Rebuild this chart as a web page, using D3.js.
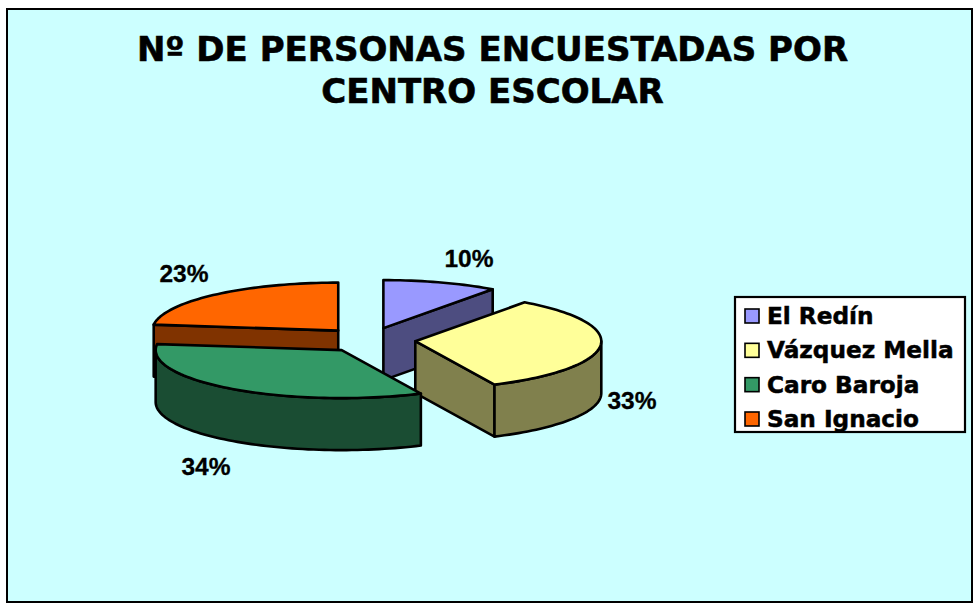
<!DOCTYPE html>
<html><head><meta charset="utf-8">
<script src="https://cdn.jsdelivr.net/npm/d3@7"></script>
<style>html,body{margin:0;padding:0;background:#fff}svg{display:block}</style>
</head><body><svg id="c" width="973" height="603"></svg>
<script>
const titleLines = ["Nº DE PERSONAS ENCUESTADAS POR", "CENTRO ESCOLAR"];
const categories = ["El Redín", "Vázquez Mella", "Caro Baroja", "San Ignacio"];
const values = [10, 33, 34, 23];
const topColors = ["#9999FF", "#FFFF99", "#339966", "#FF6600"];
const sideColors = ["#4D4D80", "#80804D", "#1A4D33", "#803300"];
const drawOrder = [0, 3, 1, 2];
const labelAnchors = [[469, 267], [632, 409], [206, 475], [184, 282]];

const svg = d3.select("#c");
const cx = 369, cy = 340, rx = 186, ry = 48, depth = 52, ex = 46.5, ey = 12.5;
const F = "'Liberation Sans',Arial,sans-serif", V = "'DejaVu Sans',Verdana,sans-serif";

svg.append("rect").attr("x", 7).attr("y", 9).attr("width", 965).attr("height", 593)
  .attr("fill", "#CCFFFF").attr("stroke", "#000").attr("stroke-width", 2);

svg.selectAll("text.title").data(titleLines).join("text").attr("class", "title")
  .attr("x", 492.5).attr("y", (d, i) => 61 + i * 42)
  .attr("text-anchor", "middle").attr("font-family", V).attr("font-weight", "bold")
  .attr("font-size", 34).attr("fill", "#000")
  .attr("stroke", "#000").attr("stroke-width", 0.6).text(d => d);

const arcs = d3.pie().sort(null).value(d => d)(values);
const line = d3.line().curve(d3.curveLinear);
const stroke = g => g.attr("stroke", "#000").attr("stroke-width", 2.6).attr("stroke-linejoin", "round");

drawOrder.forEach(i => {
  const a = arcs[i], a0 = a.startAngle, a1 = a.endAngle, mid = (a0 + a1) / 2;
  const ax = cx + ex * Math.sin(mid), ay = cy - ey * Math.cos(mid);
  const pt = t => [ax + rx * Math.sin(t), ay - ry * Math.cos(t)];
  const down = p => [p[0], p[1] + depth];
  const sweep = (s, e) => {
    const n = Math.max(2, Math.ceil((e - s) / 0.03));
    return d3.range(n + 1).map(k => pt(s + (e - s) * k / n));
  };
  const g = svg.append("g");
  const apex = [ax, ay];
  if (a0 > Math.PI && a0 < 2 * Math.PI - 1e-6) {
    const p = pt(a0);
    g.append("path").attr("d", line([apex, p, down(p), down(apex)]) + "Z").attr("fill", sideColors[i]).call(stroke);
  }
  if (a1 > 1e-6 && a1 < Math.PI) {
    const p = pt(a1);
    g.append("path").attr("d", line([apex, p, down(p), down(apex)]) + "Z").attr("fill", sideColors[i]).call(stroke);
  }
  const s = Math.max(a0, Math.PI / 2), e = Math.min(a1, 3 * Math.PI / 2);
  if (e > s) {
    const rim = sweep(s, e);
    g.append("path").attr("d", line(rim.concat(rim.map(down).reverse())) + "Z").attr("fill", sideColors[i]).call(stroke);
  }
  g.append("path").attr("d", line([apex].concat(sweep(a0, a1))) + "Z").attr("fill", topColors[i]).call(stroke);
});

const total = d3.sum(values);
svg.selectAll("text.pct").data(values).join("text").attr("class", "pct")
  .attr("x", (d, i) => labelAnchors[i][0]).attr("y", (d, i) => labelAnchors[i][1])
  .attr("text-anchor", "middle").attr("font-family", F).attr("font-weight", "bold")
  .attr("font-size", 24.5).attr("fill", "#000")
  .attr("stroke", "#000").attr("stroke-width", 0.3).text(d => Math.round(d / total * 100) + "%");

svg.append("rect").attr("x", 735).attr("y", 297).attr("width", 230).attr("height", 135)
  .attr("fill", "#fff").attr("stroke", "#000").attr("stroke-width", 2.2);
const ly = d3.scalePoint().domain(categories).range([316, 419]);
const leg = svg.selectAll("g.l").data(categories).join("g").attr("class", "l")
  .attr("transform", d => `translate(0,${ly(d)})`);
leg.append("rect").attr("x", 745).attr("y", -7).attr("width", 14).attr("height", 14)
  .attr("fill", (d, i) => topColors[i]).attr("stroke", "#000").attr("stroke-width", 1.6);
leg.append("text").attr("x", 767).attr("y", 8).attr("font-family", V).attr("font-weight", "bold")
  .attr("font-size", 23.2).attr("fill", "#000")
  .attr("stroke", "#000").attr("stroke-width", 0.5).text(d => d);
</script></body></html>
